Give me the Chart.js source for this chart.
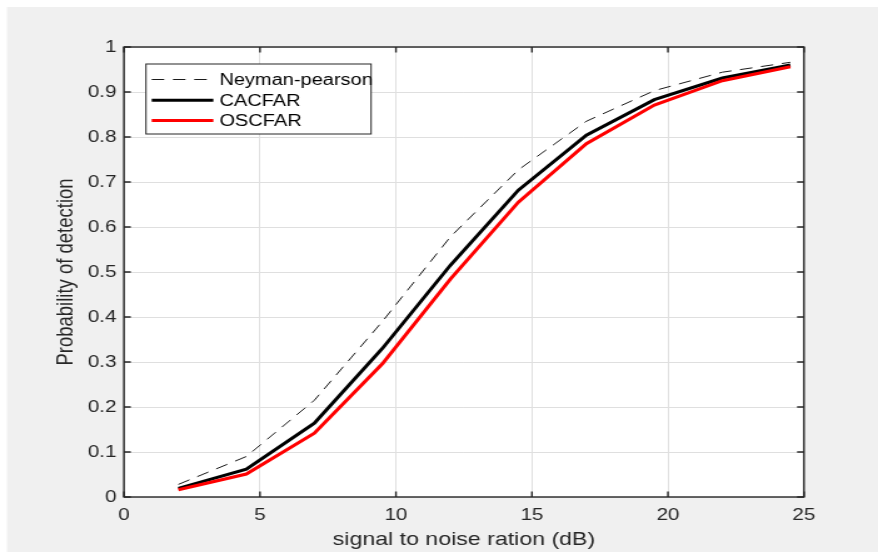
<!DOCTYPE html>
<html><head><meta charset="utf-8">
<script src="https://cdn.jsdelivr.net/npm/chart.js@4.4.0/dist/chart.umd.min.js"></script>
<style>
html,body{margin:0;padding:0;background:#fff;overflow:hidden}
canvas{display:block;width:878px !important;height:552px !important}
</style></head>
<body>
<canvas id="c" width="702" height="552" style="width:878px;height:552px"></canvas>
<script>
// ---- data ----
const snr     = [2, 4.5, 7, 9.5, 12, 14.5, 17, 19.5, 22, 24.5];
const neyman  = [0.028, 0.090, 0.215, 0.390, 0.578, 0.727, 0.835, 0.903, 0.944, 0.966];
const cacfar  = [0.019, 0.062, 0.164, 0.330, 0.515, 0.682, 0.804, 0.883, 0.931, 0.960];
const oscfar  = [0.016, 0.051, 0.142, 0.296, 0.484, 0.655, 0.785, 0.871, 0.925, 0.956];
const seriesNames = ['Neyman-pearson', 'CACFAR', 'OSCFAR'];
const xTicks = [0, 5, 10, 15, 20, 25];
const yTicks = [0, 0.1, 0.2, 0.3, 0.4, 0.5, 0.6, 0.7, 0.8, 0.9, 1];
const xTitle = 'signal to noise ration (dB)';
const yTitle = 'Probability of detection';

const FONT = '"Liberation Sans", Arial, Helvetica, sans-serif';
Chart.defaults.font.family = FONT;
const AX = '#262626';

const pts = arr => snr.map((x, i) => ({x: x, y: arr[i]}));

const bgPlugin = {
  id: 'bg',
  beforeDraw(chart) {
    const {ctx, width, height, chartArea: a} = chart;
    ctx.save();
    ctx.fillStyle = '#ffffff';
    ctx.fillRect(0, 0, width, height);
    ctx.fillStyle = '#f0f0f0';
    ctx.fillRect(5.6, 7, width, height);
    ctx.fillStyle = '#ffffff';
    ctx.fillRect(a.left, a.top, a.right - a.left, a.bottom - a.top);
    ctx.restore();
  }
};

const boxPlugin = {
  id: 'box',
  afterDatasetsDraw(chart) {
    const {ctx, chartArea: a, scales} = chart;
    ctx.save();
    ctx.strokeStyle = AX;
    ctx.lineWidth = 1.4;
    const tl = 5.5;
    ctx.beginPath();
    xTicks.forEach(v => {
      const px = scales.x.getPixelForValue(v);
      ctx.moveTo(px, a.bottom); ctx.lineTo(px, a.bottom - tl);
      ctx.moveTo(px, a.top); ctx.lineTo(px, a.top + tl);
    });
    yTicks.forEach(v => {
      const py = scales.y.getPixelForValue(v);
      ctx.moveTo(a.left, py); ctx.lineTo(a.left + tl, py);
      ctx.moveTo(a.right, py); ctx.lineTo(a.right - tl, py);
    });
    ctx.stroke();
    ctx.strokeRect(a.left, a.top, a.right - a.left, a.bottom - a.top);
    ctx.restore();
  },
  afterDraw(chart) {
    const {ctx} = chart;
    const ds = chart.data.datasets;
    ctx.save();
    const bx = 116.7, by = 64, bw = 180, bh = 70;
    ctx.fillStyle = '#ffffff';
    ctx.fillRect(bx, by, bw, bh);
    ctx.strokeStyle = AX;
    ctx.lineWidth = 1;
    ctx.strokeRect(bx, by, bw, bh);
    const rows = [79.5, 100.2, 120.6];
    ds.forEach((d, i) => {
      const y = rows[i];
      ctx.beginPath();
      ctx.strokeStyle = d.borderColor;
      ctx.lineWidth = d.borderWidth;
      ctx.setLineDash(d.borderDash || []);
      ctx.moveTo(121.3, y); ctx.lineTo(170.6, y);
      ctx.stroke();
      ctx.setLineDash([]);
      ctx.fillStyle = '#000';
      ctx.font = '16px ' + FONT;
      ctx.textBaseline = 'alphabetic';
      ctx.textAlign = 'left';
      ctx.fillText(d.label, 175.4, y + 5.3);
    });
    ctx.restore();
  }
};

new Chart(document.getElementById('c'), {
  type: 'scatter',
  data: {
    datasets: [
      {label: seriesNames[0], data: pts(neyman), showLine: true, borderColor: '#1a1a1a', borderWidth: 1, borderDash: [10, 7], pointRadius: 0, order: 2},
      {label: seriesNames[1], data: pts(cacfar), showLine: true, borderColor: '#000000', borderWidth: 3, pointRadius: 0, order: 1},
      {label: seriesNames[2], data: pts(oscfar), showLine: true, borderColor: '#ff0000', borderWidth: 3, pointRadius: 0, order: 0}
    ]
  },
  options: {
    responsive: false,
    animation: false,
    devicePixelRatio: 1,
    layout: {padding: {left: 0, top: 47, right: 59.2, bottom: 0}},
    plugins: {legend: {display: false}, tooltip: {enabled: false}},
    scales: {
      x: {
        type: 'linear', position: 'bottom', min: 0, max: 25,
        afterFit: s => { s.height = 55; },
        afterBuildTicks: s => { s.ticks = xTicks.map(v => ({value: v})); },
        grid: {color: '#dfdfdf', lineWidth: 1, drawTicks: false},
        border: {display: false},
        ticks: {color: AX, font: {size: 16.5}, padding: 9, maxRotation: 0, autoSkip: false,
                callback: v => String(v)},
        title: {display: true, text: xTitle, color: AX, font: {size: 18.5}, padding: {top: 1, bottom: 1}}
      },
      y: {
        type: 'linear', position: 'left', min: 0, max: 1,
        afterFit: s => { s.width = 99.1; },
        afterBuildTicks: s => { s.ticks = yTicks.map(v => ({value: v})); },
        grid: {color: '#dfdfdf', lineWidth: 1, drawTicks: false},
        border: {display: false},
        ticks: {color: AX, font: {size: 16.5}, padding: 6, autoSkip: false,
                callback: v => String(Math.round(v * 10) / 10)},
        title: {display: true, text: yTitle, color: AX, font: {size: 18.5}, padding: {top: 42, bottom: 0}}
      }
    }
  },
  plugins: [bgPlugin, boxPlugin]
});
</script>
</body></html>
